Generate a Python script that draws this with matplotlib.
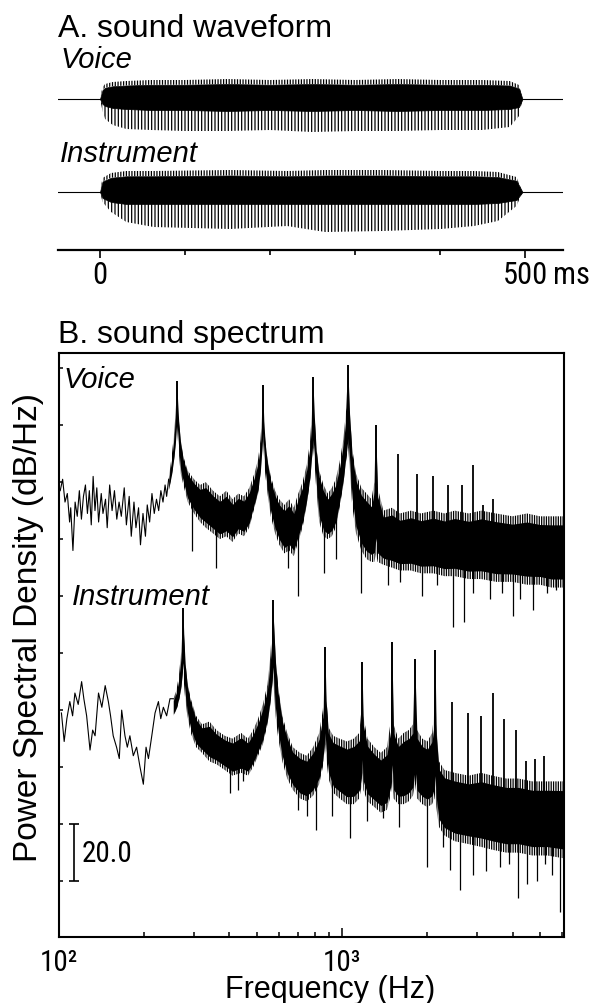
import numpy as np
import matplotlib
matplotlib.use('Agg')
import matplotlib.pyplot as plt
from matplotlib import font_manager
from matplotlib.font_manager import FontProperties

# -------- fonts --------
plt.rcParams['font.family'] = 'Liberation Sans'
plt.rcParams['hatch.linewidth'] = 0.9

# narrow face for the numbers, if one is installed
narrow_path = None
cands = []
for f in font_manager.fontManager.ttflist:
    tag = (f.fname + f.name).lower()
    if ('narrow' in tag or 'condensed' in tag) and f.style == 'normal' \
            and 'bold' not in tag and 'mono' not in tag and 'serif' not in tag and 'light' not in tag:
        cands.append(f)
for pref in ['liberation', 'roboto', 'open', 'dejavu', 'noto', '']:
    hits = [f for f in cands if pref in (f.fname + f.name).lower()]
    if hits:
        narrow_path = hits[0].fname
        break


def numfont(size):
    if narrow_path:
        return FontProperties(fname=narrow_path, size=size)
    return FontProperties(family='Liberation Sans', size=size * 0.85)


W, H = 598, 1004

# -------- A. waveform envelopes (amplitude in px, +up) --------
voice_t = [0, 3, 6, 15, 31, 60, 100, 150, 200, 250, 300, 350, 400, 450, 482, 493, 497]
voice_upper = [0, 12, 15, 17, 18, 19, 19, 20, 19, 20, 19, 20, 19, 19, 18, 14, 0]
voice_dense = [0, -5, -7, -9, -10, -11, -11, -12, -11, -12, -11, -12, -11, -11, -10, -8, 0]
voice_stripe = [0, -12, -20, -26, -30, -31, -32, -32, -31, -33, -32, -32, -31, -31, -28, -17, 0]

inst_t = [0, 3, 13, 31, 63, 153, 220, 265, 333, 401, 440, 468, 490, 497]
inst_upper = [0, 14, 19, 21, 21, 22, 21, 22, 22, 21, 21, 20, 15, 0]
inst_dense = [0, -6, -10, -12, -12, -12, -12, -12, -12, -12, -12, -11, -8, 0]
inst_stripe = [0, -10, -20, -30, -35, -37, -34, -40, -39, -37, -34, -29, -14, 0]

voice_base, inst_base = 151, 58

# -------- B. spectra (Hz, dB) --------
# low-frequency thin trace
v_low_f = [101, 103, 105, 107, 109, 110, 112, 114, 116, 118, 120, 122, 124, 126, 128, 130, 132, 134,
           136, 138, 141, 143, 146, 148, 151, 154, 157, 160, 163, 166, 170, 173, 177, 180, 184, 187,
           191, 194, 198, 202, 205, 209, 213, 217, 221, 225, 229, 233, 237, 240, 244]
v_low_db = [137, 141, 133, 136, 126, 131, 116, 133, 128, 137, 127, 135, 139, 129, 137, 125, 142, 130,
            138, 126, 136, 129, 134, 124, 139, 130, 137, 127, 133, 128, 138, 125, 135, 121, 133, 124,
            131, 118, 129, 121, 132, 126, 136, 129, 134, 130, 137, 133, 139, 135, 141]
# band with harmonic peaks: top / bottom envelope
v_band_f = [244, 250, 255, 258, 260, 261, 262.5, 265, 269, 275, 285, 300, 315, 330, 350, 370, 390,
            410, 430, 450, 470, 490, 505, 515, 521, 525, 529, 535, 545, 560, 580, 600, 625, 650, 675,
            700, 725, 750, 770, 782, 790, 798, 810, 830, 860, 890, 920, 950, 980, 1010, 1035, 1050,
            1063, 1085, 1120, 1170, 1220, 1270, 1300, 1318, 1336, 1400, 1500, 1600, 1750, 1900, 2100,
            2300, 2500, 2800, 3100, 3500, 4000, 4500, 5000, 5500, 6080]
v_band_top = [141, 149, 157, 164, 170, 175.5, 170, 162, 155, 149, 144, 141, 139, 140, 137, 135, 137,
              134, 136, 135, 138, 143, 148, 155, 163, 174, 163, 155, 148, 142, 137, 134, 132, 134, 131,
              136, 140, 146, 154, 164, 177, 165, 153, 144, 139, 136, 138, 141, 147, 155, 166, 181,
              166, 152, 143, 138, 136, 134, 140, 160, 138, 130, 131, 129, 130, 129, 130,
              129, 130, 129, 130, 129, 128, 129, 128, 128, 128]
v_band_bot = [137, 142, 148, 153, 158, 160, 156, 150, 143, 139, 133, 129, 126, 124, 122, 120, 121,
              119, 122, 121, 124, 131, 136, 143, 150, 155, 150, 143, 136, 128, 122, 118, 115, 116, 114,
              119, 124, 132, 140, 148, 152, 148, 138, 126, 121, 120, 121, 124, 131, 139, 148, 152,
              146, 132, 122, 116, 113, 112, 112, 115, 112, 111, 110, 109, 109, 108, 108,
              107, 107, 106, 106, 105, 105, 104, 104, 103, 103]
v_peak_f = [1578, 1841, 2100, 2371, 2656, 2904, 3150, 3420]
v_peak_db = [150, 143, 142, 139, 139, 146, 132, 134]
v_dip_f = [294, 358, 645, 697, 863, 950, 1166, 1450, 1600, 1910, 2170, 2470, 2700, 2900, 3330,
           3660, 4020, 4240, 4740, 5300, 5720]
v_dip_db = [116, 110, 110, 100, 108, 113, 101, 104, 105, 100, 104, 89, 91, 101, 99, 101, 93, 99,
            95, 101, 102]

i_low_f = [102, 104.3, 106.6, 109.2, 111.7, 113.8, 116.9, 120.2, 122.4, 125.2, 128.7, 131.5, 134.1,
           137.9, 141.7, 145.6, 149.4, 152.1, 155.4, 159.7, 163.3, 166.5, 171, 174.3, 178, 183, 188,
           193.3, 198.6, 203, 207, 212.7, 218.4, 224.5, 228.8, 233.7, 240, 246.6, 253.5]
i_low_db = [59, 49, 57, 63, 58, 66, 62, 70, 64, 58, 46, 53, 51, 66, 61, 68.6, 63, 58, 51, 47, 43,
            60, 51, 47, 51, 44, 47, 40, 34, 47, 43, 51, 59, 63, 57, 61, 58, 64, 64]
i_band_f = [253.5, 260, 265, 270, 273, 274.5, 276, 279, 284, 292, 305, 320, 340, 360, 385, 410, 440,
            465, 485, 505, 525, 545, 558, 566, 570, 575, 582, 595, 615, 640, 670, 710, 750, 790, 830,
            855, 865, 871, 878, 895, 930, 980, 1040, 1100, 1150, 1170, 1178, 1188, 1230, 1300, 1370,
            1440, 1485, 1502, 1520, 1580, 1650, 1720, 1780, 1811, 1840, 1920, 2000, 2080, 2120, 2133,
            2150, 2200, 2300, 2500, 2800, 3100, 3400, 3800, 4200, 4700, 5300, 6080]
i_band_top = [64, 67, 72, 80, 88, 96, 88, 78, 70, 64, 58, 55, 56, 53, 51, 50, 52,
              50, 53, 57, 62, 69, 79, 90, 98.6, 90, 79, 68, 58, 52, 47, 45, 44, 47, 52,
              60, 68, 82, 66, 54, 51, 50, 49, 50, 52, 60, 77, 58, 50, 47, 45,
              47, 56, 84, 55, 50, 52, 53, 55, 78, 53, 50, 49, 52, 60, 81,
              55, 42, 39, 38, 37, 38, 37, 36, 36, 35, 35, 35]
i_band_bot = [58, 60, 63, 67, 72, 74, 70, 64, 58, 52, 47, 45, 42, 41, 39, 37, 38,
              37, 40, 44, 48, 55, 62, 68, 72, 66, 58, 50, 42, 36, 32, 29, 28, 30, 34,
              40, 45, 48, 44, 36, 31, 29, 27, 27, 29, 33, 38, 32, 28, 26, 24,
              25, 30, 35, 29, 27, 27, 28, 30, 34, 29, 27, 26, 27, 29, 31,
              26, 19, 16, 14, 13, 12, 11, 10, 10, 9, 9, 8]
i_peak_f = [2447, 2788, 3097, 3420, 3725, 4100, 4450, 4800, 5150]
i_peak_db = [63, 59, 58, 66, 57, 53, 42, 43, 44]
i_dip_f = [402, 430, 447, 700, 750, 812, 920, 1067, 1220, 1390, 1590, 2000, 2270, 2400, 2606, 2900,
           3220, 3600, 3900, 4190, 4500, 4900, 5200, 5500, 5890]
i_dip_db = [31, 32, 35, 25, 23, 18, 23, 15, 21, 22, 19, 5, 12, 4, -3, 2, 3.5, 5, 6, -6, -1, 0, 6,
            2, -11]

# ------------------------------------------------------------------
fig = plt.figure(figsize=(W / 100, H / 100), dpi=100)

# ---------------- Panel A ----------------
axA = fig.add_axes([58 / W, 1 - 251 / H, 505 / W, 181 / H])
axA.set_xlim(-49.4, 544.7)
axA.set_ylim(0, 181)
for side in ['top', 'left', 'right']:
    axA.spines[side].set_visible(False)
axA.spines['bottom'].set_linewidth(1.6)
axA.set_yticks([])
axA.set_xticks([0, 500])
axA.set_xticklabels(['0', '500'], fontproperties=numfont(22))
axA.set_xticks([100, 200, 300, 400], minor=True)
axA.tick_params(axis='x', which='major', direction='out', length=5.5, width=1.2, pad=2)
axA.tick_params(axis='x', which='minor', direction='out', length=3.5, width=1.2)

for base, t, up, dn, st in [(voice_base, voice_t, voice_upper, voice_dense, voice_stripe),
                            (inst_base, inst_t, inst_upper, inst_dense, inst_stripe)]:
    t = np.array(t)
    up = np.array(up)
    axA.axhline(base, color='black', lw=0.8, zorder=1)
    axA.fill_between(t, base, base + 0.75 * up, color='black', lw=0.5, zorder=3)
    axA.fill_between(t, base + 0.75 * up, base + up, facecolor='none',
                     edgecolor='black', hatch='||||||', lw=0, zorder=2)
    axA.fill_between(t, base + np.array(dn), base, color='black', lw=0.5, zorder=3)
    axA.fill_between(t, base + np.array(st), base + np.array(dn), facecolor='none',
                     edgecolor='black', hatch='|||||', lw=0, zorder=2)

fig.text(58 / W, 1 - 37 / H, 'A. sound waveform', fontsize=23, va='baseline')
fig.text(60 / W, 1 - 68 / H, 'Voice', fontsize=21, style='italic', va='baseline')
fig.text(60 / W, 1 - 162 / H, 'Instrument', fontsize=21, style='italic', va='baseline')

# ---------------- Panel B ----------------
axB = fig.add_axes([59 / W, 1 - 938 / H, 505 / W, 584 / H])
axB.set_xscale('log')
axB.set_xlim(100, 6080)
axB.set_ylim(-19.6, 185.3)
for side in axB.spines:
    axB.spines[side].set_linewidth(1.5)
axB.set_yticks(np.arange(0, 181, 20))
axB.set_yticklabels([])
axB.tick_params(axis='y', direction='in', length=3, width=1.1)
axB.set_xticks([100, 1000])
axB.set_xticklabels(['10\u00b2', '10\u00b3'], fontproperties=numfont(21))
axB.set_xticks([200, 300, 400, 500, 600, 700, 800, 900, 2000, 3000, 4000, 5000, 6000], minor=True)
axB.xaxis.set_minor_formatter(plt.NullFormatter())
axB.tick_params(axis='x', which='major', direction='in', length=6.5, width=1.1, pad=8)
axB.tick_params(axis='x', which='minor', direction='in', length=3.5, width=1.1)

for lf, ld, bf, bt, bb, pf, pd, df, dd in [
        (v_low_f, v_low_db, v_band_f, v_band_top, v_band_bot, v_peak_f, v_peak_db, v_dip_f, v_dip_db),
        (i_low_f, i_low_db, i_band_f, i_band_top, i_band_bot, i_peak_f, i_peak_db, i_dip_f, i_dip_db)]:
    bf, bt, bb = np.array(bf), np.array(bt), np.array(bb)
    axB.plot(lf, ld, color='black', lw=0.8)
    # solid core of the noisy band, thin hatched fringe
    core_lo = bb + 0.12 * (bt - bb)
    core_hi = bt - 0.12 * (bt - bb)
    axB.fill_between(bf, core_lo, core_hi, color='black', lw=0)
    axB.fill_between(bf, bb, bt, facecolor='none', edgecolor='black', hatch='|||||||', lw=0)
    # tips of the big harmonics
    tip = (bt[1:-1] > bt[:-2] + 4) & (bt[1:-1] > bt[2:] + 4)
    axB.vlines(bf[1:-1][tip], core_lo[1:-1][tip], bt[1:-1][tip], color='black', lw=1.4)
    bot_ref = np.interp(pf, bf, bt) - 6
    axB.vlines(pf, bot_ref, pd, color='black', lw=1.3)
    top_ref = np.interp(df, bf, bb) + 4
    axB.vlines(df, dd, top_ref, color='black', lw=0.9)

# scale bar
axB.errorbar([113], [10], yerr=[10], fmt='none', ecolor='black', elinewidth=1.2, capsize=3.5,
             capthick=1.2)
axB.text(120, 10, '20.0', fontproperties=numfont(21), va='center', ha='left')

fig.text(58 / W, 1 - 343 / H, 'B. sound spectrum', fontsize=23, va='baseline')
fig.text(63 / W, 1 - 388 / H, 'Voice', fontsize=21, style='italic', va='baseline')
fig.text(72 / W, 1 - 605 / H, 'Instrument', fontsize=21, style='italic', va='baseline')
fig.text(330 / W, 1 - 998 / H, 'Frequency (Hz)', fontsize=22, ha='center', va='baseline')
fig.text(29 / W, 1 - 627 / H, 'Power Spectral Density (dB/Hz)', fontsize=24, rotation=90,
         ha='center', va='center')

# "ms" right after the 500 tick label
fig.canvas.draw()
renderer = fig.canvas.get_renderer()
bb500 = axA.get_xticklabels()[1].get_window_extent(renderer)
fig.text((bb500.x1 + 5) / W, bb500.y0 / H, 'ms', fontproperties=numfont(22), va='bottom', ha='left')

fig.savefig('out.png', dpi=100)
